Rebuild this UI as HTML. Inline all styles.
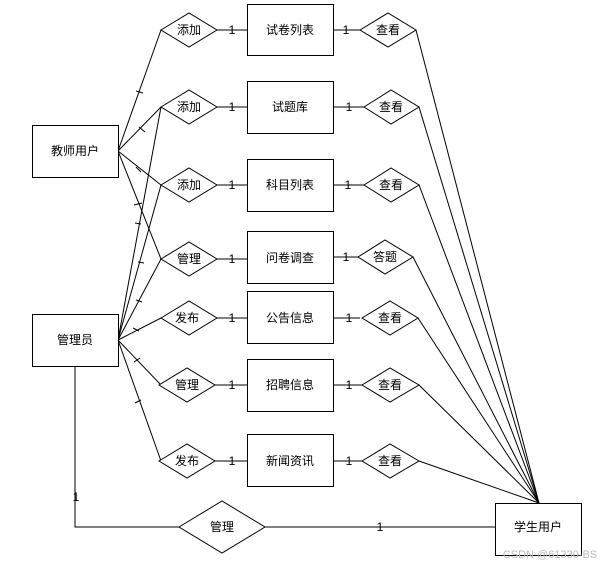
<!DOCTYPE html>
<html><head><meta charset="utf-8"><style>
html,body{margin:0;padding:0;background:#fff;}
svg text{font-family:"Liberation Sans","Noto Sans CJK SC",sans-serif;font-size:12px;fill:#000;}
</style></head><body>
<svg width="605" height="566" viewBox="0 0 605 566" xmlns="http://www.w3.org/2000/svg">
<g stroke="#000" stroke-width="1" fill="none">
<!-- teacher lines -->
<line x1="118" y1="151" x2="161" y2="30"/>
<line x1="118" y1="151" x2="161" y2="107"/>
<line x1="118" y1="151" x2="161" y2="185"/>
<line x1="118" y1="151" x2="161" y2="259"/>
<!-- admin lines -->
<line x1="118" y1="340" x2="161" y2="107"/>
<line x1="118" y1="340" x2="161" y2="185"/>
<line x1="118" y1="340" x2="161" y2="259"/>
<line x1="118" y1="340" x2="161" y2="318"/>
<line x1="118" y1="340" x2="161" y2="385"/>
<line x1="118" y1="340" x2="161" y2="461"/>
<!-- diamond to entity -->
<line x1="217" y1="30" x2="247" y2="30"/>
<line x1="217" y1="107" x2="247" y2="107"/>
<line x1="217" y1="185" x2="247" y2="185"/>
<line x1="217" y1="259" x2="247" y2="259"/>
<line x1="217" y1="318" x2="247" y2="318"/>
<line x1="215" y1="385" x2="247" y2="385"/>
<line x1="215" y1="461" x2="247" y2="461"/>
<!-- entity to view diamonds -->
<line x1="333" y1="30" x2="360" y2="30"/>
<line x1="333" y1="107" x2="364" y2="107"/>
<line x1="333" y1="185" x2="364" y2="185"/>
<line x1="333" y1="257" x2="358" y2="257"/>
<line x1="333" y1="318" x2="360" y2="318"/>
<line x1="333" y1="385" x2="362" y2="385"/>
<line x1="333" y1="461" x2="362" y2="461"/>
<!-- view to student -->
<line x1="416" y1="30" x2="539" y2="503"/>
<line x1="419" y1="107" x2="539" y2="503"/>
<line x1="419" y1="185" x2="539" y2="503"/>
<line x1="413" y1="257" x2="539" y2="503"/>
<line x1="418" y1="318" x2="539" y2="503"/>
<line x1="419" y1="385" x2="539" y2="503"/>
<line x1="419" y1="461" x2="539" y2="503"/>
<!-- bottom -->
<polyline points="75,366 75,527 179,527"/>
<line x1="265" y1="527" x2="495" y2="527"/>
<!-- boxes -->
<rect x="32.5" y="125.5" width="86" height="52" fill="#fff"/>
<rect x="32.5" y="314.5" width="86" height="52" fill="#fff"/>
<rect x="495.5" y="503.5" width="86" height="52" fill="#fff"/>
<rect x="247.5" y="4.5" width="86" height="51" fill="#fff"/>
<rect x="247.5" y="81.5" width="86" height="52" fill="#fff"/>
<rect x="247.5" y="159.5" width="86" height="52" fill="#fff"/>
<rect x="247.5" y="231.5" width="86" height="52" fill="#fff"/>
<rect x="247.5" y="291.5" width="86" height="52" fill="#fff"/>
<rect x="247.5" y="359.5" width="86" height="52" fill="#fff"/>
<rect x="247.5" y="434.5" width="86" height="52" fill="#fff"/>
<!-- left diamonds -->
<polygon points="161,30 189,13 217,30 189,47" fill="#fff"/>
<polygon points="161,107 189,90 217,107 189,124" fill="#fff"/>
<polygon points="161,185 189,168 217,185 189,202" fill="#fff"/>
<polygon points="161,259 189,242 217,259 189,276" fill="#fff"/>
<polygon points="161,318 189,301 217,318 189,335" fill="#fff"/>
<polygon points="159,385 187,368 215,385 187,402" fill="#fff"/>
<polygon points="159,461 187,444 215,461 187,478" fill="#fff"/>
<!-- right diamonds -->
<polygon points="360,30 388,13 416,30 388,47" fill="#fff"/>
<polygon points="364,107 391,90 419,107 391,124" fill="#fff"/>
<polygon points="364,185 391,168 419,185 391,202" fill="#fff"/>
<polygon points="358,257 385,240 413,257 385,274" fill="#fff"/>
<polygon points="362,318 390,301 418,318 390,335" fill="#fff"/>
<polygon points="362,385 390,368 419,385 390,402" fill="#fff"/>
<polygon points="362,461 390,444 419,461 390,478" fill="#fff"/>
<!-- bottom diamond -->
<polygon points="179,527 222,501 265,527 222,553" fill="#fff"/>
<!-- ticks -->
<line x1="136" y1="91" x2="143" y2="93"/>
<line x1="139" y1="127" x2="145" y2="132"/>
<line x1="136" y1="167" x2="141" y2="172"/>
<line x1="134" y1="205" x2="142" y2="203"/>
<line x1="135" y1="223" x2="141" y2="224"/>
<line x1="138" y1="262" x2="144" y2="263"/>
<line x1="136" y1="300" x2="142" y2="302"/>
<line x1="133" y1="328" x2="139" y2="331"/>
<line x1="134" y1="362" x2="140" y2="358"/>
<line x1="135" y1="403" x2="141" y2="400"/>
</g>
<g text-anchor="middle">
<text x="75" y="155">教师用户</text>
<text x="75" y="344">管理员</text>
<text x="538" y="531">学生用户</text>
<text x="290" y="34">试卷列表</text>
<text x="290" y="111">试题库</text>
<text x="290" y="189">科目列表</text>
<text x="290" y="262">问卷调查</text>
<text x="290" y="322">公告信息</text>
<text x="290" y="389">招聘信息</text>
<text x="290" y="465">新闻资讯</text>
<text x="189" y="34">添加</text>
<text x="189" y="111">添加</text>
<text x="189" y="189">添加</text>
<text x="189" y="263">管理</text>
<text x="187" y="322">发布</text>
<text x="187" y="389">管理</text>
<text x="187" y="465">发布</text>
<text x="388" y="34">查看</text>
<text x="391" y="111">查看</text>
<text x="391" y="189">查看</text>
<text x="385" y="261">答题</text>
<text x="390" y="322">查看</text>
<text x="390" y="389">查看</text>
<text x="390" y="465">查看</text>
<text x="222" y="531">管理</text>
<g style="font-size:11px">
<text x="232" y="34">1</text>
<text x="232" y="111">1</text>
<text x="232" y="189">1</text>
<text x="232" y="263">1</text>
<text x="232" y="322">1</text>
<text x="232" y="389">1</text>
<text x="232" y="465">1</text>
<text x="346" y="34">1</text>
<text x="349" y="111">1</text>
<text x="348" y="189">1</text>
<text x="346" y="261">1</text>
<text x="349" y="322">1</text>
<text x="349" y="389">1</text>
<text x="349" y="465">1</text>
<text x="76" y="501">1</text>
<text x="380" y="531">1</text>
</g>
<text x="550" y="558" style="font-size:11px;fill:#bbb">CSDN @61330-BS</text>
</g>
</svg>
</body></html>
